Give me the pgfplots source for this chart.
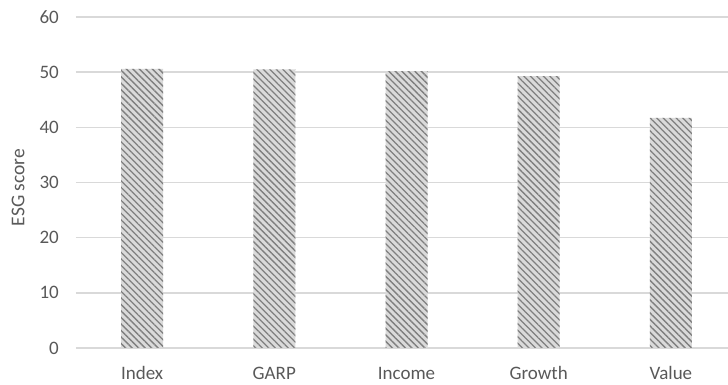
\documentclass[border=0pt]{standalone}
\usepackage{pgfplots}
\pgfplotsset{compat=1.18}
\usepackage{fontspec}
\setmainfont{Carlito}
\usetikzlibrary{patterns.meta,calc}
\definecolor{gridc}{HTML}{D9D9D9}
\definecolor{txt}{HTML}{595959}
\definecolor{barfill}{HTML}{DADADA}
\definecolor{hatch}{HTML}{7F7F7F}
\begin{document}
\begin{tikzpicture}[x=1pt,y=1pt]
\begin{axis}[
  name=a,
  at={(76pt,37pt)},
  anchor=south west,
  scale only axis,
  width=661pt, height=331pt,
  xmin=-0.5, xmax=4.5,
  ymin=0, ymax=60,
  ytick={0,10,...,60},
  xtick={0,1,2,3,4},
  xticklabels={Index,GARP,Income,Growth,Value},
  axis line style={draw=none},
  tick style={draw=none},
  ymajorgrids,
  grid style={gridc, line width=1.4pt},
  /pgf/number format/assume math mode=true,
  ticklabel style={font=\fontsize{19}{21}\selectfont, text=txt},
  yticklabel style={inner sep=0pt, xshift=-17pt},
  xticklabel style={inner sep=0pt, anchor=base, yshift=-32pt},
  every axis y label/.style={at={(axis description cs:0,0.5)}, rotate=90, anchor=center, yshift=58pt, xshift=-5pt, font=\fontsize{19.5}{21}\selectfont, text=txt},
  ylabel={ESG score},
]
\addplot[ybar, bar width=42pt, draw=none, fill=barfill,
  postaction={pattern={Lines[angle=-45,distance=4.6pt,line width=1.3pt]}, pattern color=hatch}]
  coordinates {(0,50.6) (1,50.5) (2,50.2) (3,49.3) (4,41.7)};
\end{axis}
\pgfresetboundingbox
\path[use as bounding box] (0,0) rectangle (728pt,385pt);
\end{tikzpicture}
\end{document}
